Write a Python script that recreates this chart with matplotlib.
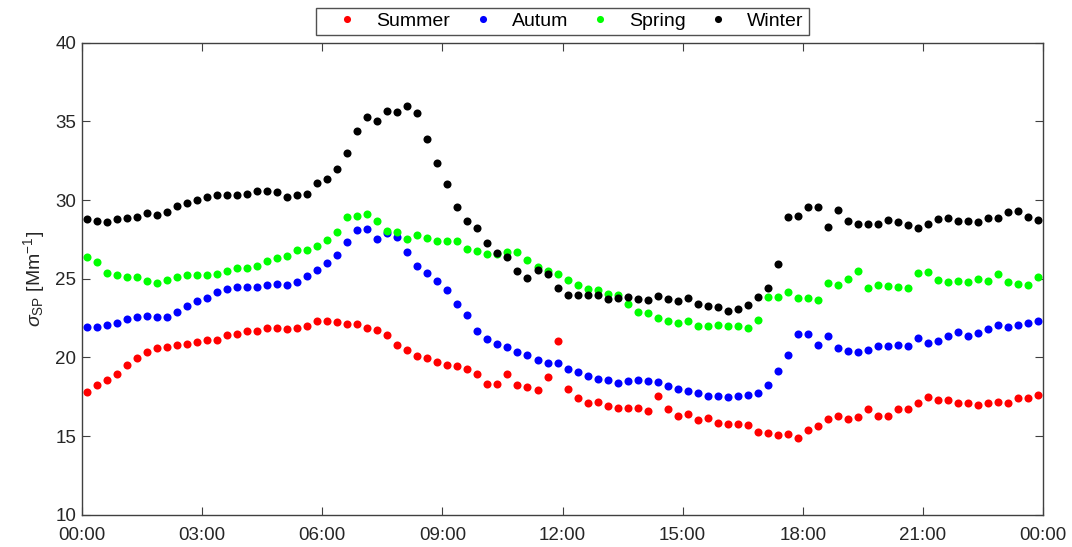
import numpy as np
import matplotlib
matplotlib.use('Agg')
import matplotlib.pyplot as plt

plt.rcParams['font.family'] = ['Liberation Sans', 'DejaVu Sans']
plt.rcParams['mathtext.fontset'] = 'custom'
plt.rcParams['mathtext.rm'] = 'Liberation Sans'
plt.rcParams['mathtext.it'] = 'Liberation Sans:italic'

# 15-min averages over the day (bin centres, hours)
hours = 0.125 + 0.25 * np.arange(96)

summer = [17.78, 18.24, 18.58, 18.92, 19.53, 19.98, 20.32, 20.57, 20.66, 20.78,
          20.83, 20.97, 21.08, 21.12, 21.42, 21.46, 21.65, 21.67, 21.84, 21.88,
          21.80, 21.88, 21.97, 22.31, 22.31, 22.27, 22.14, 22.14, 21.86, 21.76,
          21.44, 20.81, 20.49, 20.11, 19.98, 19.68, 19.53, 19.43, 19.24, 18.92,
          18.31, 18.33, 18.94, 18.22, 18.12, 17.92, 18.75, 21.04, 17.98, 17.44,
          17.12, 17.16, 16.92, 16.78, 16.78, 16.78, 16.59, 17.56, 16.69, 16.29,
          16.40, 16.01, 16.14, 15.85, 15.74, 15.76, 15.72, 15.23, 15.21, 15.08,
          15.12, 14.90, 15.38, 15.61, 16.11, 16.27, 16.06, 16.19, 16.69, 16.27,
          16.25, 16.74, 16.69, 17.11, 17.45, 17.32, 17.28, 17.09, 17.09, 16.96,
          17.09, 17.16, 17.07, 17.41, 17.41, 17.60]

autumn = [21.91, 21.93, 22.06, 22.18, 22.44, 22.58, 22.61, 22.56, 22.56, 22.88,
          23.28, 23.56, 23.79, 24.13, 24.32, 24.47, 24.45, 24.47, 24.58, 24.66,
          24.60, 24.79, 25.15, 25.55, 26.02, 26.50, 27.31, 28.09, 28.14, 27.50,
          27.90, 27.63, 26.67, 25.83, 25.34, 24.83, 24.30, 23.39, 22.71, 21.69,
          21.19, 20.85, 20.68, 20.36, 20.17, 19.83, 19.62, 19.64, 19.23, 19.10,
          18.79, 18.64, 18.56, 18.39, 18.51, 18.54, 18.49, 18.45, 18.18, 17.99,
          17.88, 17.75, 17.54, 17.54, 17.48, 17.52, 17.61, 17.73, 18.22, 19.15,
          20.13, 21.46, 21.46, 20.78, 21.33, 20.61, 20.38, 20.32, 20.44, 20.70,
          20.74, 20.78, 20.70, 21.23, 20.89, 21.02, 21.33, 21.61, 21.36, 21.55,
          21.78, 22.06, 21.95, 22.06, 22.21, 22.31]

spring = [26.40, 26.08, 25.34, 25.23, 25.13, 25.08, 24.83, 24.75, 24.92, 25.08,
          25.21, 25.21, 25.23, 25.30, 25.49, 25.66, 25.68, 25.78, 26.10, 26.31,
          26.46, 26.82, 26.82, 27.06, 27.46, 27.94, 28.90, 28.96, 29.11, 28.67,
          28.05, 27.97, 27.50, 27.75, 27.56, 27.39, 27.39, 27.39, 26.89, 26.76,
          26.55, 26.55, 26.69, 26.69, 26.19, 25.72, 25.50, 25.27, 24.93, 24.61,
          24.36, 24.30, 24.02, 23.96, 23.39, 22.86, 22.79, 22.50, 22.31, 22.16,
          22.33, 22.01, 21.97, 22.07, 22.01, 21.97, 21.86, 22.37, 23.85, 23.85,
          24.17, 23.79, 23.77, 23.64, 24.70, 24.59, 24.96, 25.47, 24.41, 24.60,
          24.53, 24.47, 24.43, 25.36, 25.44, 24.94, 24.77, 24.85, 24.77, 24.96,
          24.87, 25.32, 24.77, 24.66, 24.62, 25.11]

winter = [28.79, 28.69, 28.62, 28.79, 28.83, 28.94, 29.17, 29.03, 29.26, 29.64,
          29.83, 30.00, 30.17, 30.32, 30.32, 30.34, 30.38, 30.59, 30.59, 30.49,
          30.21, 30.32, 30.38, 31.08, 31.31, 31.97, 32.97, 34.36, 35.25, 35.02,
          35.66, 35.61, 35.95, 35.51, 33.88, 32.35, 31.00, 29.53, 28.67, 28.22,
          27.29, 26.63, 26.36, 25.51, 25.02, 25.57, 25.30, 24.41, 23.98, 23.98,
          23.96, 23.96, 23.68, 23.75, 23.86, 23.71, 23.64, 23.92, 23.68, 23.58,
          23.79, 23.39, 23.24, 23.18, 22.96, 23.05, 23.30, 23.81, 24.41, 25.91,
          28.90, 28.96, 29.53, 29.57, 28.30, 29.36, 28.68, 28.49, 28.47, 28.47,
          28.73, 28.62, 28.43, 28.24, 28.49, 28.79, 28.85, 28.68, 28.68, 28.62,
          28.85, 28.83, 29.26, 29.32, 28.94, 28.73]

x_ticks = [0, 3, 6, 9, 12, 15, 18, 21, 24]
x_labels = ['00:00', '03:00', '06:00', '09:00', '12:00', '15:00', '18:00', '21:00', '00:00']
y_ticks = [10, 15, 20, 25, 30, 35, 40]

fig = plt.figure(figsize=(10.72, 5.47), dpi=100)
ax = fig.add_axes([0.0765, 0.059, 0.8965, 0.863])

series = [('Summer', summer, '#ff0000'), ('Autum', autumn, '#0000ff'),
          ('Spring', spring, '#00ff00'), ('Winter', winter, '#000000')]
for name, vals, col in series:
    ax.plot(hours, vals, 'o', color=col, markersize=5.8, markeredgewidth=0, label=name)

ax.set_xlim(0, 24)
ax.set_ylim(10, 40)
ax.set_xticks(x_ticks)
ax.set_xticklabels(x_labels)
ax.set_yticks(y_ticks)

grey = '#404040'
for s in ax.spines.values():
    s.set_color(grey)
    s.set_linewidth(1.0)
ax.tick_params(direction='in', length=6, width=0.8, color=grey, labelcolor='#262626',
               labelsize=13.5, top=True, right=True, pad=4)
ax.tick_params(axis='x', pad=9)

ax.set_ylabel(r'$\sigma_{\mathrm{SP}}$ [Mm$^{-1}$]', fontsize=14, color='#262626', labelpad=6)

leg = ax.legend(loc='lower center', bbox_to_anchor=(0.5, 1.016), ncol=4, frameon=True,
                fancybox=False, edgecolor='#262626', fontsize=14, markerscale=0.88,
                handlelength=2.7, handletextpad=0.15, columnspacing=0.3,
                borderpad=0.25, borderaxespad=0)
leg.get_frame().set_linewidth(1.0)

fig.savefig('out.png', dpi=100)
